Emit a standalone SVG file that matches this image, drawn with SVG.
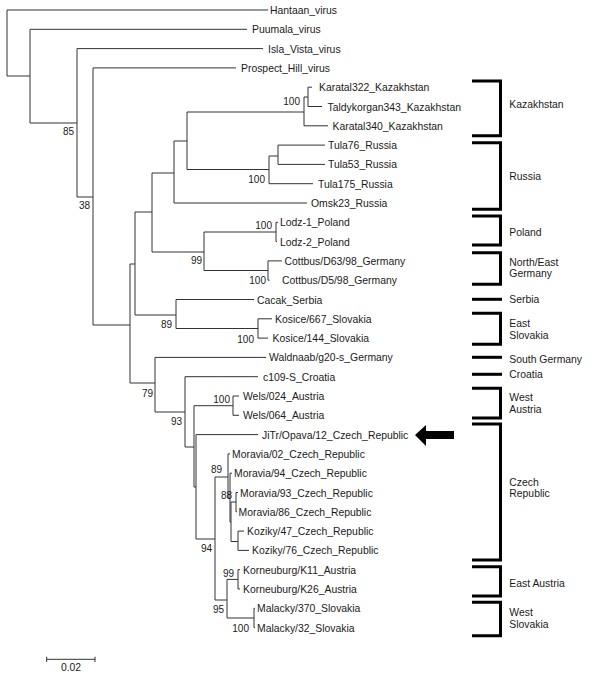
<svg xmlns="http://www.w3.org/2000/svg" width="600" height="675" viewBox="0 0 600 675">
<style>
text{font-family:"Liberation Sans",Arial,sans-serif;fill:#1a1a1a}
.leaf{font-size:10.4px}
.bs{font-size:10px;text-anchor:end}
.grp{font-size:10.4px}
.tree{fill:none;stroke:#333;stroke-width:1}
.br{fill:none;stroke:#000;stroke-width:3}
</style>
<rect width="600" height="675" fill="#fff"/>
<g id="connectors" class="tree">
<path d="M7,10V76M7,10H268M7,76H30
M30,29.3V123M30,29.3H247M30,123H77
M77,48.6V197M77,48.6H263M77,197H93
M93,67.9V325M93,67.9H236M93,325H130
M130,264V383M130,264H135M130,383H155
M135,212V315M135,212H152M135,315H176
M152,173V252M152,173H174M152,252H204
M174,141V203M174,141H187M174,203H307
M187,112V169.5M187,112H304M187,169.5H269
M304,97V125.8M304,97H308M304,125.8H328
M308,87.2V106.5M308,87.2H312M308,106.5H322
M269,156V183.7M269,156H278M269,183.7H313
M278,145.1V164.4M278,145.1H325M278,164.4H325
M204,232V270.5M204,232H276M204,270.5H268
M276,222.3V241.6M276,222.3H278M276,241.6H277
M268,260.9V280.2M268,260.9H282M268,280.2H269.5
M176,299.5V328.5M176,299.5H254M176,328.5H258
M258,318.8V338.1M258,318.8H272M258,338.1H268
M155,357.4V412M155,357.4H266M155,412H185
M185,376.7V447M185,376.7H258M185,447H194
M194,405.7V487M194,405.7H233M194,487H196
M233,396V415.3M233,396H239M233,415.3H239
M196,434.6V539M196,434.6H258M196,539H215
M215,477V600M215,477H228M215,600H227
M228,453.9V498M228,453.9H230M228,498H230
M230,473.2V522M230,473.2H232M230,522H231
M231,502V541.5M231,502H236M231,541.5H238
M236,492.5V511.8M236,492.5H238M236,511.8H237
M238,531.1V550.4M238,531.1H244M238,550.4H249
M227,579.4V618M227,579.4H238M227,618H254
M238,569.7V589M238,569.7H240M238,589H240
M254,608.3V627.6M254,608.3H255M254,627.6H255"/>
</g>
<g id="leaves" class="leaf">
<g id="n-hantaan"><text x="270" y="14">Hantaan_virus</text></g>
<g id="n-puumala"><text x="252" y="33.3">Puumala_virus</text></g>
<g id="n-islavista"><text x="268" y="52.6">Isla_Vista_virus</text></g>
<g id="n-prospect"><text x="241" y="71.9">Prospect_Hill_virus</text></g>
<g id="n-karatal322"><text x="319" y="91.2">Karatal322_Kazakhstan</text></g>
<g id="n-taldykorgan343"><text x="327.5" y="110.5">Taldykorgan343_Kazakhstan</text></g>
<g id="n-karatal340"><text x="332.5" y="129.8">Karatal340_Kazakhstan</text></g>
<g id="n-tula76"><text x="328" y="149.1">Tula76_Russia</text></g>
<g id="n-tula53"><text x="328" y="168.4">Tula53_Russia</text></g>
<g id="n-tula175"><text x="318" y="187.7">Tula175_Russia</text></g>
<g id="n-omsk23"><text x="311" y="207">Omsk23_Russia</text></g>
<g id="n-lodz1"><text x="280" y="226.3">Lodz-1_Poland</text></g>
<g id="n-lodz2"><text x="280" y="245.6">Lodz-2_Poland</text></g>
<g id="n-cottbus63"><text x="284.5" y="264.9">Cottbus/D63/98_Germany</text></g>
<g id="n-cottbus5"><text x="282" y="284.2">Cottbus/D5/98_Germany</text></g>
<g id="n-cacak"><text x="257" y="303.5">Cacak_Serbia</text></g>
<g id="n-kosice667"><text x="275" y="322.8">Kosice/667_Slovakia</text></g>
<g id="n-kosice144"><text x="272.5" y="342.1">Kosice/144_Slovakia</text></g>
<g id="n-waldnaab"><text x="269" y="361.4">Waldnaab/g20-s_Germany</text></g>
<g id="n-c109"><text x="263" y="380.7">c109-S_Croatia</text></g>
<g id="n-wels024"><text x="243" y="400">Wels/024_Austria</text></g>
<g id="n-wels064"><text x="243" y="419.3">Wels/064_Austria</text></g>
<g id="n-jitr"><text x="262" y="438.6">JiTr/Opava/12_Czech_Republic</text></g>
<g id="n-moravia02"><text x="232" y="457.9">Moravia/02_Czech_Republic</text></g>
<g id="n-moravia94"><text x="234" y="477.2">Moravia/94_Czech_Republic</text></g>
<g id="n-moravia93"><text x="240" y="496.5">Moravia/93_Czech_Republic</text></g>
<g id="n-moravia86"><text x="238.5" y="515.8">Moravia/86_Czech_Republic</text></g>
<g id="n-koziky47"><text x="247" y="535.1">Koziky/47_Czech_Republic</text></g>
<g id="n-koziky76"><text x="252" y="554.4">Koziky/76_Czech_Republic</text></g>
<g id="n-korneuburg11"><text x="243" y="573.7">Korneuburg/K11_Austria</text></g>
<g id="n-korneuburg26"><text x="243" y="593">Korneuburg/K26_Austria</text></g>
<g id="n-malacky370"><text x="257" y="612.3">Malacky/370_Slovakia</text></g>
<g id="n-malacky32"><text x="257" y="631.6">Malacky/32_Slovakia</text></g>
</g>
<g id="bootstrap" class="bs">
<text x="74" y="135">85</text>
<text x="90" y="209">38</text>
<text x="300" y="105">100</text>
<text x="265" y="182.5">100</text>
<text x="272" y="229">100</text>
<text x="202" y="264">99</text>
<text x="266" y="284">100</text>
<text x="172" y="328">89</text>
<text x="254" y="343">100</text>
<text x="153" y="397">79</text>
<text x="182" y="425">93</text>
<text x="230" y="403">100</text>
<text x="222" y="473">89</text>
<text x="232" y="499">88</text>
<text x="212" y="552">94</text>
<text x="234" y="577">99</text>
<text x="224" y="613">95</text>
<text x="249" y="632">100</text>
</g>
<g id="groups">
<g id="g-kazakhstan"><path class="br" d="M472,81H500.5V135.7H472"/><text class="grp" x="509.3" y="108">Kazakhstan</text></g>
<g id="g-russia"><path class="br" d="M472,142.7H500.5V209.3H472"/><text class="grp" x="509.3" y="179.7">Russia</text></g>
<g id="g-poland"><path class="br" d="M472,216H500.5V245H472"/><text class="grp" x="509.3" y="236">Poland</text></g>
<g id="g-negermany"><path class="br" d="M472,252.7H500.5V284.3H472"/><text class="grp" x="509.3" y="266.4">North/East</text><text class="grp" x="509.3" y="277">Germany</text></g>
<g id="g-serbia"><path class="br" d="M472,299.3H502"/><text class="grp" x="509.3" y="303">Serbia</text></g>
<g id="g-eslovakia"><path class="br" d="M472,313.3H500.5V344.3H472"/><text class="grp" x="509.3" y="327">East</text><text class="grp" x="509.3" y="338.7">Slovakia</text></g>
<g id="g-sgermany"><path class="br" d="M472,357.3H502"/><text class="grp" x="509.3" y="363">South Germany</text></g>
<g id="g-croatia"><path class="br" d="M472,374.3H502"/><text class="grp" x="509.3" y="378">Croatia</text></g>
<g id="g-waustria"><path class="br" d="M472,388.3H500.5V418H472"/><text class="grp" x="509.3" y="401">West</text><text class="grp" x="509.3" y="413">Austria</text></g>
<g id="g-czech"><path class="br" d="M472,424H500.5V560H472"/><text class="grp" x="509.3" y="486">Czech</text><text class="grp" x="509.3" y="497">Republic</text></g>
<g id="g-eaustria"><path class="br" d="M472,566.7H500.5V596H472"/><text class="grp" x="509.3" y="587">East Austria</text></g>
<g id="g-wslovakia"><path class="br" d="M472,602.3H500.5V635.7H472"/><text class="grp" x="509.3" y="616.4">West</text><text class="grp" x="509.3" y="628">Slovakia</text></g>
</g>
<g id="arrow"><polygon points="415,435 426,425 426,431 454,431 454,439 426,439 426,446" fill="#000"/></g>
<g id="scalebar">
<path class="tree" d="M46.7,659.3H95M46.7,656.7V662M95,656.7V662"/>
<text x="71" y="671" style="font-size:10.4px;text-anchor:middle">0.02</text>
</g>
</svg>
